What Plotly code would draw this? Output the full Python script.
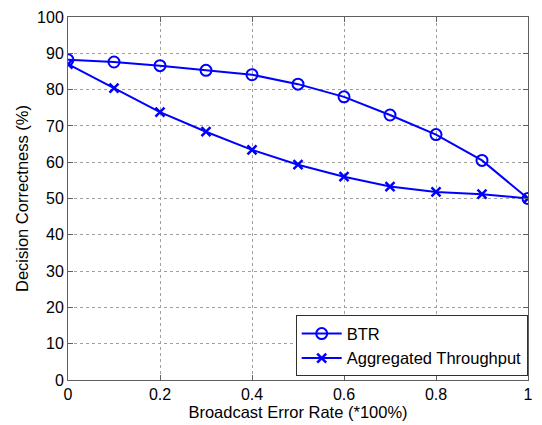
import plotly.graph_objects as go

x_vals = [0, 0.1, 0.2, 0.3, 0.4, 0.5, 0.6, 0.7, 0.8, 0.9, 1.0]
btr = [88.2, 87.6, 86.6, 85.3, 84.1, 81.5, 78.0, 73.0, 67.6, 60.5, 50.0]
agg = [87.0, 80.4, 73.8, 68.4, 63.4, 59.3, 56.0, 53.3, 51.8, 51.2, 50.0]
x_ticks = [0, 0.2, 0.4, 0.6, 0.8, 1]
x_tick_text = ["0", "0.2", "0.4", "0.6", "0.8", "1"]
y_ticks = list(range(0, 101, 10))

blue = "#0000ff"
font = "Liberation Sans, Arial, Helvetica, sans-serif"
fs = 16.5

fig = go.Figure()
fig.add_trace(go.Scatter(
    x=x_vals, y=btr, name="BTR", mode="lines+markers",
    line=dict(color=blue, width=2),
    marker=dict(symbol="circle-open", size=11, color=blue, line=dict(width=2, color=blue)),
))
fig.add_trace(go.Scatter(
    x=x_vals, y=agg, name="Aggregated Throughput", mode="lines+markers",
    line=dict(color=blue, width=2),
    marker=dict(symbol="x-thin-open", size=9, color=blue, line=dict(width=2.5, color=blue)),
))

axis_common = dict(
    showline=True, linecolor="#606060", linewidth=1, mirror="ticks",
    ticks="inside", ticklen=5, tickcolor="#606060",
    showgrid=True, gridcolor="#a0a0a0", griddash="dot", gridwidth=1,
    zeroline=False,
    tickfont=dict(family=font, size=16, color="black"),
)

fig.update_xaxes(
    range=[0, 1], tickvals=x_ticks, ticktext=x_tick_text,
    title=dict(text="Broadcast Error Rate (*100%)", font=dict(family=font, size=fs, color="black"), standoff=1),
    **axis_common,
)
fig.update_yaxes(
    range=[0, 100], tickvals=y_ticks,
    title=dict(text="Decision Correctness (%)", font=dict(family=font, size=fs, color="black"), standoff=4),
    **axis_common,
)

fig.update_layout(
    width=542, height=425,
    margin=dict(l=68, r=9, t=15, b=43),
    paper_bgcolor="white", plot_bgcolor="white",
    showlegend=True,
    legend=dict(
        x=0.495, y=0.01, xanchor="left", yanchor="bottom",
        bgcolor="white", bordercolor="#303030", borderwidth=1,
        font=dict(family=font, size=fs, color="black"),
        tracegroupgap=0, itemwidth=40,
    ),
)

fig.write_html("out.html")
